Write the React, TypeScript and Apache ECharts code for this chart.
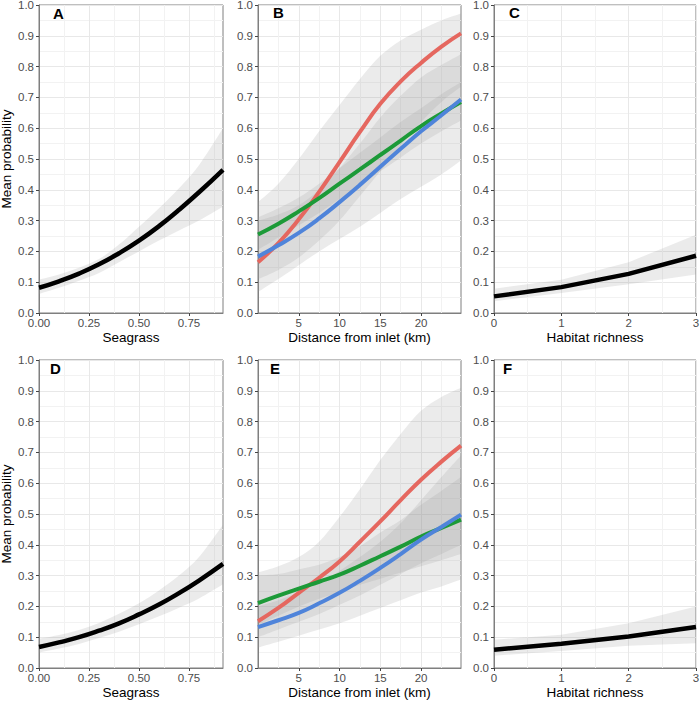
import React, { useEffect, useRef } from 'react';
import * as echarts from 'echarts';

// ---------- data ----------
const seagrassX = [0, 0.1, 0.2, 0.3, 0.4, 0.5, 0.6, 0.7, 0.8, 0.92];
const aMean = [0.082, 0.103, 0.128, 0.158, 0.194, 0.235, 0.282, 0.335, 0.392, 0.465];
const aUpper = [0.108, 0.125, 0.147, 0.175, 0.222, 0.28, 0.34, 0.405, 0.48, 0.6];
const aLower = [0.062, 0.082, 0.105, 0.13, 0.165, 0.2, 0.235, 0.268, 0.3, 0.345];
const dMean = [0.068, 0.083, 0.1, 0.121, 0.145, 0.174, 0.206, 0.243, 0.284, 0.338];
const dUpper = [0.095, 0.107, 0.123, 0.146, 0.176, 0.21, 0.252, 0.3, 0.36, 0.465];
const dLower = [0.05, 0.063, 0.078, 0.097, 0.118, 0.142, 0.168, 0.196, 0.226, 0.272];

const richX = [0, 1, 2, 3];
const cMean = [0.054, 0.084, 0.127, 0.186];
const cUpper = [0.079, 0.108, 0.165, 0.254];
const cLower = [0.038, 0.065, 0.093, 0.125];
const fMean = [0.059, 0.079, 0.102, 0.133];
const fUpper = [0.092, 0.108, 0.145, 0.2];
const fLower = [0.04, 0.055, 0.072, 0.08];

const distX = [0, 2.5, 5, 7.5, 10, 12.5, 15, 17.5, 20, 22.5, 24.9];
const bRed = [0.165, 0.227, 0.304, 0.393, 0.49, 0.588, 0.679, 0.752, 0.812, 0.865, 0.908];
const bGreen = [0.255, 0.29, 0.33, 0.373, 0.42, 0.466, 0.513, 0.56, 0.607, 0.648, 0.685];
const bBlue = [0.183, 0.22, 0.26, 0.307, 0.36, 0.416, 0.475, 0.533, 0.59, 0.642, 0.693];
const bRedUpper = [0.36, 0.42, 0.5, 0.59, 0.675, 0.76, 0.835, 0.885, 0.92, 0.95, 0.972];
const bRedLower = [0.11, 0.14, 0.18, 0.235, 0.3, 0.38, 0.46, 0.545, 0.62, 0.685, 0.735];
const bGreenUpper = [0.31, 0.34, 0.375, 0.42, 0.47, 0.52, 0.57, 0.62, 0.665, 0.71, 0.75];
const bGreenLower = [0.205, 0.245, 0.285, 0.325, 0.37, 0.415, 0.46, 0.505, 0.55, 0.59, 0.625];
const bBlueUpper = [0.3, 0.32, 0.35, 0.4, 0.47, 0.55, 0.635, 0.705, 0.765, 0.805, 0.84];
const bBlueLower = [0.068, 0.11, 0.155, 0.2, 0.24, 0.28, 0.325, 0.37, 0.41, 0.45, 0.495];

const eRed = [0.152, 0.195, 0.244, 0.293, 0.346, 0.41, 0.476, 0.545, 0.611, 0.67, 0.722];
const eGreen = [0.211, 0.235, 0.258, 0.28, 0.303, 0.332, 0.363, 0.394, 0.427, 0.455, 0.482];
const eBlue = [0.133, 0.155, 0.179, 0.21, 0.244, 0.283, 0.325, 0.37, 0.417, 0.458, 0.498];
const eRedUpper = [0.31, 0.33, 0.36, 0.41, 0.49, 0.58, 0.675, 0.76, 0.835, 0.88, 0.91];
const eRedLower = [0.1, 0.125, 0.15, 0.175, 0.205, 0.235, 0.27, 0.305, 0.34, 0.37, 0.4];
const eGreenUpper = [0.3, 0.305, 0.32, 0.335, 0.36, 0.395, 0.44, 0.48, 0.53, 0.575, 0.62];
const eGreenLower = [0.14, 0.17, 0.2, 0.225, 0.245, 0.27, 0.29, 0.31, 0.33, 0.35, 0.37];
const eBlueUpper = [0.2, 0.22, 0.245, 0.275, 0.315, 0.36, 0.41, 0.47, 0.545, 0.62, 0.69];
const eBlueLower = [0.066, 0.085, 0.105, 0.125, 0.145, 0.17, 0.195, 0.22, 0.245, 0.265, 0.287];

const seagrassTicks = [0, 0.25, 0.5, 0.75];
const distTicks = [5, 10, 15, 20];
const richTicks = [0, 1, 2, 3];
const yTicks = [0, 0.1, 0.2, 0.3, 0.4, 0.5, 0.6, 0.7, 0.8, 0.9, 1.0];
const panelLetters = ['A', 'B', 'C', 'D', 'E', 'F'];
const xTitles = ['Seagrass', 'Distance from inlet (km)', 'Habitat richness'];
const yTitle = 'Mean probability';

// ---------- styling / layout ----------
const FONT = '"Liberation Sans", Arial, Helvetica, sans-serif';
const RED = '#E5675F';
const GREEN = '#1C9A38';
const BLUE = '#4F84DA';
const BAND = 'rgba(153,153,153,0.2)';
const colLeft = [39, 258, 494];
const colWidth = [184, 203, 202];
const rowTop = [5, 360];
const rowHeight = 308;
const letterPos = [
  [53, 6], [273, 5], [509, 5],
  [50, 361], [270, 361], [503, 361],
];

type Pt = number[];

// Catmull-Rom smoothing of screen points into bezier path commands (rendering only)
function segs(p: Pt[], smooth: boolean): string {
  let d = '';
  for (let i = 0; i < p.length - 1; i++) {
    const p0 = p[Math.max(0, i - 1)];
    const p1 = p[i];
    const p2 = p[i + 1];
    const p3 = p[Math.min(p.length - 1, i + 2)];
    if (!smooth) {
      d += ` L ${p2[0]} ${p2[1]}`;
    } else {
      const c1x = p1[0] + (p2[0] - p0[0]) / 6;
      const c1y = p1[1] + (p2[1] - p0[1]) / 6;
      const c2x = p2[0] - (p3[0] - p1[0]) / 6;
      const c2y = p2[1] - (p3[1] - p1[1]) / 6;
      d += ` C ${c1x} ${c1y} ${c2x} ${c2y} ${p2[0]} ${p2[1]}`;
    }
  }
  return d;
}

function App() {
  const ref = useRef<HTMLDivElement>(null);

  useEffect(() => {
    if (!ref.current) return;
    const chart = echarts.init(ref.current, undefined, { renderer: 'svg' });

    const grids: any[] = [];
    const xAxes: any[] = [];
    const yAxes: any[] = [];
    const series: any[] = [];

    const xCfg = [
      { min: 0, max: 0.92, interval: 0.25, ticks: seagrassTicks, fmt: (v: number) => v.toFixed(2) },
      { min: 0, max: 24.9, interval: 5, ticks: distTicks, fmt: (v: number) => String(v) },
      { min: 0, max: 3, interval: 1, ticks: richTicks, fmt: (v: number) => String(v) },
    ];

    for (let r = 0; r < 2; r++) {
      for (let c = 0; c < 3; c++) {
        const gi = r * 3 + c;
        grids.push({
          left: colLeft[c], top: rowTop[r], width: colWidth[c], height: rowHeight,
          show: true, borderColor: '#7f7f7f', borderWidth: 1, backgroundColor: 'transparent',
          outerBoundsMode: 'none', containLabel: false,
        });
        const xc = xCfg[c];
        xAxes.push({
          gridIndex: gi, type: 'value', min: xc.min, max: xc.max, interval: xc.interval,
          axisLine: { show: true, onZero: false, lineStyle: { color: '#7f7f7f', width: 1 } },
          axisTick: { show: true, length: 3, customValues: xc.ticks, lineStyle: { color: '#444' } },
          axisLabel: {
            customValues: xc.ticks, formatter: xc.fmt, fontSize: 11.5, color: '#4D4D4D',
            fontFamily: FONT, margin: 4,
          },
          splitLine: { show: true, lineStyle: { color: '#E8E8E8', width: 1 } },
          minorTick: { show: false, splitNumber: 2 },
          minorSplitLine: { show: true, lineStyle: { color: '#F2F2F2', width: 1 } },
          name: xTitles[c], nameLocation: 'middle', nameGap: 17,
          nameTextStyle: { fontSize: 13.5, color: '#000', fontFamily: FONT },
        });
        yAxes.push({
          gridIndex: gi, type: 'value', min: 0, max: 1, interval: 0.1,
          axisLine: { show: true, onZero: false, lineStyle: { color: '#7f7f7f', width: 1 } },
          axisTick: { show: true, length: 3, customValues: yTicks, lineStyle: { color: '#444' } },
          axisLabel: {
            customValues: yTicks, formatter: (v: number) => v.toFixed(1), fontSize: 11.5,
            color: '#4D4D4D', fontFamily: FONT, margin: 5,
          },
          splitLine: { show: true, lineStyle: { color: '#E8E8E8', width: 1 } },
          minorTick: { show: false, splitNumber: 2 },
          minorSplitLine: { show: true, lineStyle: { color: '#F2F2F2', width: 1 } },
          name: c === 0 ? yTitle : '', nameLocation: 'middle', nameGap: 26,
          nameTextStyle: { fontSize: 13.5, color: '#000', fontFamily: FONT },
        });
      }
    }

    const band = (gi: number, xs: number[], lo: number[], up: number[], smooth: boolean) => {
      series.push({
        type: 'custom', coordinateSystem: 'cartesian2d', xAxisIndex: gi, yAxisIndex: gi,
        silent: true, clip: true, z: 1,
        data: [[xs[0], lo[0]]],
        renderItem: (_params: any, api: any) => {
          const top = xs.map((x, i) => api.coord([x, up[i]]));
          const bot = xs.map((x, i) => api.coord([x, lo[i]])).reverse();
          const d = `M ${top[0][0]} ${top[0][1]}` + segs(top, smooth) +
            ` L ${bot[0][0]} ${bot[0][1]}` + segs(bot, smooth) + ' Z';
          return { type: 'path', shape: { pathData: d }, style: { fill: BAND, stroke: 'none' } };
        },
      });
    };
    const curve = (gi: number, xs: number[], ys: number[], color: string, width: number, smooth: boolean) => {
      series.push({
        type: 'line', xAxisIndex: gi, yAxisIndex: gi, smooth, symbol: 'none', silent: true,
        lineStyle: { color, width, cap: 'butt' }, data: xs.map((x, i) => [x, ys[i]]), z: 3,
      });
    };

    // Panel A
    band(0, seagrassX, aLower, aUpper, true);
    curve(0, seagrassX, aMean, '#000', 4.5, true);
    // Panel B
    band(1, distX, bRedLower, bRedUpper, true);
    band(1, distX, bGreenLower, bGreenUpper, true);
    band(1, distX, bBlueLower, bBlueUpper, true);
    curve(1, distX, bRed, RED, 4, true);
    curve(1, distX, bGreen, GREEN, 4, true);
    curve(1, distX, bBlue, BLUE, 4, true);
    // Panel C
    band(2, richX, cLower, cUpper, false);
    curve(2, richX, cMean, '#000', 4.5, false);
    // Panel D
    band(3, seagrassX, dLower, dUpper, true);
    curve(3, seagrassX, dMean, '#000', 4.5, true);
    // Panel E
    band(4, distX, eRedLower, eRedUpper, true);
    band(4, distX, eGreenLower, eGreenUpper, true);
    band(4, distX, eBlueLower, eBlueUpper, true);
    curve(4, distX, eRed, RED, 4, true);
    curve(4, distX, eGreen, GREEN, 4, true);
    curve(4, distX, eBlue, BLUE, 4, true);
    // Panel F
    band(5, richX, fLower, fUpper, false);
    curve(5, richX, fMean, '#000', 4.5, false);

    const graphic = panelLetters.map((t, i) => ({
      type: 'text', left: letterPos[i][0], top: letterPos[i][1], z: 10,
      style: { text: t, font: `bold 15px ${FONT}`, fill: '#000' },
    }));

    chart.setOption({
      animation: false,
      backgroundColor: '#fff',
      grid: grids,
      xAxis: xAxes,
      yAxis: yAxes,
      series,
      graphic,
    });

    return () => chart.dispose();
  }, []);

  return (
    <div
      ref={ref}
      style={{ position: 'absolute', left: 0, top: 0, width: 700, height: 702 }}
    />
  );
}

export default App;
